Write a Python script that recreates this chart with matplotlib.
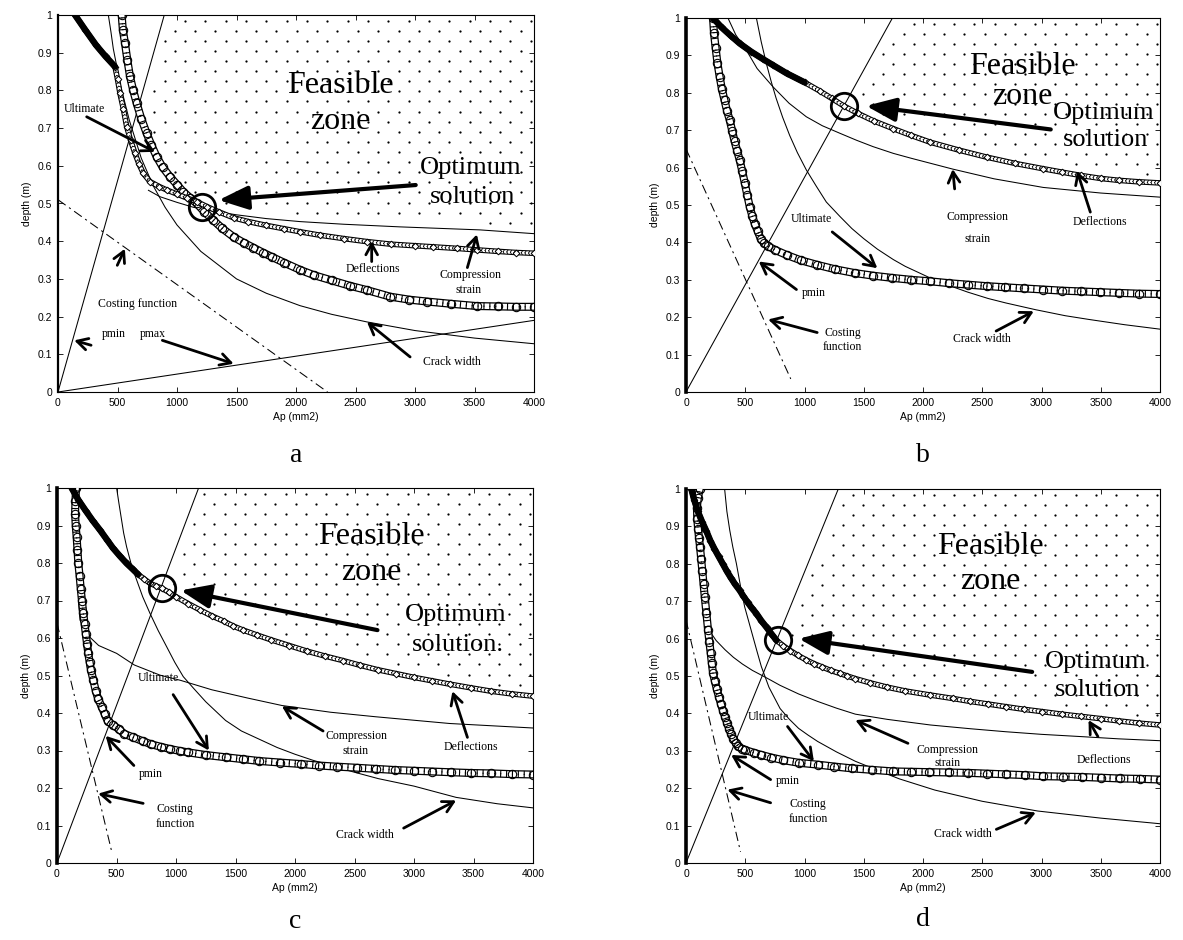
import numpy as np
import matplotlib
matplotlib.use("Agg")
import matplotlib.pyplot as plt
import matplotlib.patheffects as pe

# ---------------- panel a ----------------
A_PMIN_X = [0, 893]
A_PMIN_Y = [0, 1.0]
A_PMAX_X = [0, 4000]
A_PMAX_Y = [0, 0.19]
A_COST_X = [0, 2265]
A_COST_Y = [0.51, 0.0]
A_DEFL_X = [143, 230, 320, 400, 479, 500, 521, 550, 577, 610, 647, 680, 717, 773, 850, 913, 1000, 1080,
            1165, 1250, 1350, 1476, 1600, 1750, 1900, 2034, 2200, 2400, 2594, 2800, 3000, 3154, 3350,
            3518, 3700, 3850, 4000]
A_DEFL_Y = [1.0, 0.96, 0.92, 0.89, 0.863, 0.83, 0.792, 0.75, 0.704, 0.668, 0.633, 0.605, 0.58, 0.558,
            0.545, 0.536, 0.525, 0.515, 0.505, 0.492, 0.478, 0.462, 0.452, 0.442, 0.433, 0.425, 0.416,
            0.407, 0.399, 0.392, 0.388, 0.385, 0.381, 0.377, 0.373, 0.370, 0.368]
A_DEFL_THICK = 5
A_CIRC_X = [535, 545, 563, 583, 605, 632, 661, 700, 745, 785, 829, 880, 941, 1000, 1053, 1110, 1165,
            1230, 1300, 1380, 1476, 1560, 1640, 1720, 1800, 1900, 2034, 2150, 2300, 2450, 2600, 2790,
            2950, 3100, 3300, 3518, 3700, 3850, 4000]
A_CIRC_Y = [1.0, 0.96, 0.925, 0.88, 0.837, 0.8, 0.766, 0.725, 0.686, 0.655, 0.624, 0.596, 0.571, 0.55,
            0.531, 0.515, 0.5, 0.478, 0.457, 0.434, 0.411, 0.396, 0.383, 0.37, 0.358, 0.343, 0.324,
            0.31, 0.296, 0.282, 0.27, 0.253, 0.245, 0.24, 0.234, 0.228, 0.227, 0.226, 0.226]
A_COMP_X = [760, 857, 1000, 1137, 1300, 1500, 1750, 2034, 2400, 2874, 3546, 4000]
A_COMP_Y = [0.535, 0.518, 0.503, 0.49, 0.48, 0.47, 0.46, 0.452, 0.445, 0.438, 0.43, 0.42]
A_CRACK_X = [423, 445, 465, 490, 520, 560, 600, 650, 700, 800, 900, 1000, 1200, 1500, 1750, 2034, 2300,
             2594, 3000, 3500, 4000]
A_CRACK_Y = [1.0, 0.955, 0.91, 0.87, 0.82, 0.77, 0.72, 0.67, 0.62, 0.547, 0.49, 0.443, 0.373, 0.3,
             0.262, 0.229, 0.206, 0.186, 0.163, 0.143, 0.128]
A_OPT = (1208, 0.491)

# ---------------- panel b ----------------
B_PMIN_X = [0, 1742]
B_PMIN_Y = [0, 1.0]
B_COST_X = [0, 884]
B_COST_Y = [0.65, 0.035]
B_DEFL_X = [228, 300, 380, 453, 550, 650, 734, 850, 1000, 1128, 1230, 1331, 1450, 1583, 1750, 1900,
            2060, 2300, 2537, 2780, 3014, 3170, 3332, 3500, 3650, 3820, 4000]
B_DEFL_Y = [1.0, 0.975, 0.952, 0.932, 0.91, 0.89, 0.874, 0.852, 0.828, 0.805, 0.785, 0.765, 0.745,
            0.725, 0.704, 0.686, 0.668, 0.647, 0.628, 0.611, 0.597, 0.588, 0.579, 0.571, 0.566, 0.562,
            0.559]
B_DEFL_THICK = 9
B_CIRC_X = [228, 236, 250, 265, 284, 303, 325, 346, 369, 390, 410, 432, 453, 475, 495, 516, 538, 560,
            580, 605, 630, 660, 693, 750, 852, 970, 1107, 1260, 1425, 1580, 1742, 1900, 2060, 2220,
            2378, 2540, 2696, 2850, 3014, 3170, 3332, 3490, 3650, 3820, 4000]
B_CIRC_Y = [1.0, 0.96, 0.92, 0.88, 0.843, 0.81, 0.78, 0.752, 0.727, 0.698, 0.67, 0.645, 0.62, 0.59,
            0.56, 0.528, 0.495, 0.47, 0.45, 0.43, 0.41, 0.398, 0.39, 0.38, 0.366, 0.352, 0.34, 0.328,
            0.318, 0.311, 0.305, 0.3, 0.296, 0.291, 0.287, 0.283, 0.28, 0.277, 0.274, 0.271, 0.269,
            0.267, 0.265, 0.263, 0.262]
B_COMP_X = [354, 420, 509, 600, 734, 870, 1015, 1150, 1297, 1440, 1579, 1750, 1900, 2251, 2600, 3014,
            3500, 4000]
B_COMP_Y = [1.0, 0.955, 0.914, 0.865, 0.816, 0.772, 0.736, 0.712, 0.692, 0.673, 0.656, 0.638, 0.625,
            0.596, 0.57, 0.547, 0.532, 0.521]
B_CRACK_X = [594, 635, 680, 720, 760, 815, 875, 940, 1015, 1100, 1184, 1300, 1400, 1500, 1615, 1750,
             1850, 2060, 2200, 2378, 2550, 2700, 2951, 3200, 3400, 3700, 4000]
B_CRACK_Y = [1.0, 0.936, 0.876, 0.829, 0.786, 0.735, 0.686, 0.64, 0.594, 0.55, 0.508, 0.469, 0.437,
             0.41, 0.382, 0.354, 0.336, 0.305, 0.287, 0.267, 0.25, 0.238, 0.22, 0.204, 0.194, 0.18,
             0.168]
B_OPT = (1335, 0.765)

# ---------------- panel c ----------------
C_PMIN_X = [0, 1190]
C_PMIN_Y = [0, 1.0]
C_COST_X = [0, 460]
C_COST_Y = [0.64, 0.03]
C_DEFL_X = [123, 180, 240, 300, 361, 420, 470, 530, 585, 635, 680, 730, 781, 830, 879, 940, 1000, 1100,
            1201, 1300, 1400, 1480, 1565, 1680, 1800, 1950, 2100, 2250, 2400, 2550, 2700, 2850, 3000,
            3150, 3300, 3480, 3650, 3820, 4000]
C_DEFL_Y = [1.0, 0.968, 0.94, 0.913, 0.888, 0.862, 0.84, 0.818, 0.799, 0.784, 0.77, 0.758, 0.746,
            0.739, 0.733, 0.722, 0.71, 0.692, 0.675, 0.659, 0.645, 0.632, 0.621, 0.608, 0.595, 0.58,
            0.565, 0.552, 0.54, 0.527, 0.515, 0.505, 0.495, 0.486, 0.477, 0.467, 0.458, 0.451, 0.445]
C_DEFL_THICK = 11
C_CIRC_X = [160, 155, 152, 157, 165, 172, 179, 190, 200, 210, 221, 232, 242, 252, 263, 274, 285, 305,
            325, 345, 378, 400, 425, 470, 520, 567, 640, 720, 787, 870, 950, 1030, 1102, 1250, 1417,
            1560, 1700, 1870, 2047, 2200, 2350, 2520, 2677, 2840, 3000, 3150, 3307, 3480, 3650, 3820,
            4000]
C_CIRC_Y = [1.0, 0.965, 0.932, 0.9, 0.87, 0.835, 0.8, 0.765, 0.73, 0.698, 0.666, 0.637, 0.61, 0.585,
            0.559, 0.536, 0.515, 0.488, 0.46, 0.438, 0.415, 0.398, 0.379, 0.368, 0.357, 0.344, 0.335,
            0.325, 0.317, 0.31, 0.304, 0.299, 0.295, 0.288, 0.282, 0.277, 0.272, 0.268, 0.264, 0.26,
            0.257, 0.254, 0.251, 0.248, 0.246, 0.244, 0.242, 0.24, 0.239, 0.237, 0.236]
C_COMP_X = [180, 193, 250, 350, 501, 650, 865, 1039, 1300, 1600, 1890, 2300, 2677, 3300, 4000]
C_COMP_Y = [0.7, 0.648, 0.61, 0.58, 0.559, 0.528, 0.501, 0.487, 0.462, 0.44, 0.42, 0.402, 0.39, 0.372,
            0.36]
C_CRACK_X = [501, 520, 540, 560, 585, 625, 669, 720, 781, 850, 921, 990, 1061, 1150, 1250, 1417, 1550,
             1700, 1850, 2000, 2150, 2300, 2500, 2700, 3000, 3354, 3700, 4000]
C_CRACK_Y = [1.0, 0.96, 0.92, 0.88, 0.843, 0.795, 0.755, 0.71, 0.666, 0.62, 0.577, 0.535, 0.497, 0.465,
             0.43, 0.38, 0.352, 0.33, 0.308, 0.29, 0.274, 0.26, 0.242, 0.225, 0.205, 0.175, 0.158,
             0.147]
C_OPT = (879, 0.733)

# ---------------- panel d ----------------
D_PMIN_X = [0, 1285]
D_PMIN_Y = [0, 1.0]
D_COST_X = [0, 460]
D_COST_Y = [0.65, 0.03]
D_DEFL_X = [45, 70, 100, 135, 171, 205, 240, 275, 312, 345, 380, 415, 453, 485, 520, 555, 594, 635,
            680, 720, 762, 820, 880, 945, 1015, 1080, 1150, 1220, 1297, 1360, 1429, 1550, 1700, 1850,
            2063, 2250, 2400, 2550, 2698, 2850, 3000, 3170, 3333, 3500, 3650, 3820, 4000]
D_DEFL_Y = [1.0, 0.97, 0.94, 0.913, 0.888, 0.862, 0.84, 0.82, 0.799, 0.78, 0.762, 0.745, 0.729, 0.713,
            0.697, 0.682, 0.667, 0.648, 0.63, 0.613, 0.596, 0.581, 0.568, 0.555, 0.543, 0.533, 0.524,
            0.515, 0.507, 0.5, 0.493, 0.482, 0.47, 0.46, 0.449, 0.44, 0.432, 0.425, 0.418, 0.411, 0.405,
            0.398, 0.392, 0.386, 0.38, 0.374, 0.369]
D_DEFL_THICK = 21
D_CIRC_X = [116, 100, 92, 95, 102, 110, 118, 128, 138, 148, 158, 172, 186, 197, 208, 218, 228, 244,
            260, 277, 295, 312, 330, 347, 365, 382, 400, 420, 440, 470, 500, 570, 635, 720, 820, 950,
            1111, 1250, 1400, 1570, 1746, 1900, 2050, 2220, 2381, 2540, 2700, 2860, 3016, 3180, 3340,
            3500, 3660, 3830, 4000]
D_CIRC_Y = [1.0, 0.975, 0.95, 0.92, 0.893, 0.868, 0.846, 0.813, 0.78, 0.746, 0.712, 0.668, 0.623,
            0.592, 0.562, 0.534, 0.507, 0.486, 0.465, 0.445, 0.425, 0.407, 0.39, 0.374, 0.358, 0.344,
            0.332, 0.321, 0.312, 0.306, 0.302, 0.295, 0.289, 0.282, 0.275, 0.268, 0.263, 0.258, 0.253,
            0.249, 0.245, 0.244, 0.243, 0.242, 0.241, 0.239, 0.237, 0.235, 0.232, 0.231, 0.23, 0.228,
            0.226, 0.225, 0.223]
D_COMP_X = [170, 200, 254, 330, 400, 476, 560, 650, 720, 794, 950, 1111, 1270, 1429, 1700, 2063, 2400,
            2698, 3000, 3333, 3650, 4000]
D_COMP_Y = [0.64, 0.62, 0.595, 0.57, 0.55, 0.532, 0.515, 0.5, 0.488, 0.475, 0.452, 0.432, 0.414, 0.398,
            0.384, 0.369, 0.359, 0.351, 0.344, 0.338, 0.332, 0.327]
D_CRACK_X = [326, 345, 369, 395, 425, 460, 495, 530, 565, 600, 636, 700, 794, 870, 950, 1030, 1111,
             1270, 1429, 1600, 1800, 2100, 2500, 2968, 3500, 4000]
D_CRACK_Y = [1.0, 0.94, 0.89, 0.845, 0.801, 0.74, 0.685, 0.645, 0.605, 0.565, 0.525, 0.47, 0.413,
             0.385, 0.36, 0.342, 0.325, 0.297, 0.272, 0.25, 0.225, 0.195, 0.165, 0.139, 0.12, 0.105]
D_OPT = (778, 0.596)

XTICKS = [0, 500, 1000, 1500, 2000, 2500, 3000, 3500, 4000]
YTICKS = [0, 0.1, 0.2, 0.3, 0.4, 0.5, 0.6, 0.7, 0.8, 0.9, 1]
YTICKLABELS = ["0", "0.1", "0.2", "0.3", "0.4", "0.5", "0.6", "0.7", "0.8", "0.9", "1"]

SERIF = "Liberation Serif"
plt.rcParams.update({"font.family": "Liberation Sans", "font.size": 7.5})

BIG, MID, SMALL = 23, 19, 8.5

# (text, x, y, size) and (tail_x, tail_y, tip_x, tip_y)
PANELS = {
    "a": dict(pmin=(A_PMIN_X, A_PMIN_Y), pmax=(A_PMAX_X, A_PMAX_Y), cost=(A_COST_X, A_COST_Y),
              defl=(A_DEFL_X, A_DEFL_Y), thick=A_DEFL_THICK, circ=(A_CIRC_X, A_CIRC_Y),
              comp=(A_COMP_X, A_COMP_Y), crack=(A_CRACK_X, A_CRACK_Y), opt=A_OPT, circ_bound=True,
              texts=[("Feasible", 2370, 0.814, BIG), ("zone", 2370, 0.717, BIG),
                     ("Optimum", 3464, 0.593, MID), ("solution", 3480, 0.518, MID),
                     ("Ultimate", 220, 0.75, SMALL), ("Deflections", 2650, 0.325, SMALL),
                     ("Compression", 3464, 0.31, SMALL), ("strain", 3448, 0.27, SMALL),
                     ("Costing function", 672, 0.234, SMALL), ("pmin", 470, 0.155, SMALL),
                     ("pmax", 798, 0.155, SMALL), ("Crack width", 3306, 0.08, SMALL)],
              arrows=[(241, 0.73, 815, 0.637), (2636, 0.346, 2636, 0.4), (3440, 0.33, 3520, 0.418),
                      (498, 0.336, 562, 0.38), (278, 0.124, 136, 0.137), (877, 0.137, 1476, 0.075),
                      (2959, 0.093, 2596, 0.186)],
              opt_arrow=(3006, 0.549, 1350, 0.509), spine=1.6),
    "b": dict(pmin=(B_PMIN_X, B_PMIN_Y), pmax=None, cost=(B_COST_X, B_COST_Y),
              defl=(B_DEFL_X, B_DEFL_Y), thick=B_DEFL_THICK, circ=(B_CIRC_X, B_CIRC_Y),
              comp=(B_COMP_X, B_COMP_Y), crack=(B_CRACK_X, B_CRACK_Y), opt=B_OPT, circ_bound=False,
              texts=[("Feasible", 2839, 0.869, BIG), ("zone", 2839, 0.79, BIG),
                     ("Optimum", 3523, 0.746, MID), ("solution", 3539, 0.675, MID),
                     ("Compression", 2458, 0.468, SMALL), ("strain", 2458, 0.41, SMALL),
                     ("Deflections", 3491, 0.455, SMALL), ("Ultimate", 1059, 0.463, SMALL),
                     ("pmin", 1075, 0.265, SMALL), ("Costing", 1323, 0.159, SMALL),
                     ("function", 1323, 0.119, SMALL), ("Crack width", 2499, 0.141, SMALL)],
              arrows=[(2267, 0.543, 2251, 0.596), (3412, 0.481, 3300, 0.591), (1234, 0.428, 1615, 0.331),
                      (932, 0.274, 614, 0.349), (1107, 0.159, 693, 0.194), (2617, 0.163, 2935, 0.216)],
              opt_arrow=(3078, 0.702, 1520, 0.765), spine=2.6),
    "c": dict(pmin=(C_PMIN_X, C_PMIN_Y), pmax=None, cost=(C_COST_X, C_COST_Y),
              defl=(C_DEFL_X, C_DEFL_Y), thick=C_DEFL_THICK, circ=(C_CIRC_X, C_CIRC_Y),
              comp=(C_COMP_X, C_COMP_Y), crack=(C_CRACK_X, C_CRACK_Y), opt=C_OPT, circ_bound=False,
              texts=[("Feasible", 2646, 0.872, BIG), ("zone", 2646, 0.775, BIG),
                     ("Optimum", 3354, 0.661, MID), ("solution.", 3370, 0.581, MID),
                     ("Ultimate", 850, 0.493, SMALL), ("Compression", 2513, 0.339, SMALL),
                     ("strain", 2513, 0.3, SMALL), ("Deflections", 3480, 0.308, SMALL),
                     ("pmin", 787, 0.238, SMALL), ("Costing", 992, 0.143, SMALL),
                     ("function", 992, 0.103, SMALL), ("Crack width", 2583, 0.075, SMALL)],
              arrows=[(976, 0.449, 1276, 0.3), (2236, 0.352, 1890, 0.418), (3449, 0.335, 3323, 0.458),
                      (646, 0.26, 409, 0.339), (724, 0.159, 346, 0.185), (2913, 0.093, 3354, 0.167)],
              opt_arrow=(2693, 0.621, 1039, 0.727), spine=2.6),
    "d": dict(pmin=(D_PMIN_X, D_PMIN_Y), pmax=None, cost=(D_COST_X, D_COST_Y),
              defl=(D_DEFL_X, D_DEFL_Y), thick=D_DEFL_THICK, circ=(D_CIRC_X, D_CIRC_Y),
              comp=(D_COMP_X, D_COMP_Y), crack=(D_CRACK_X, D_CRACK_Y), opt=D_OPT, circ_bound=False,
              texts=[("Feasible", 2571, 0.847, BIG), ("zone", 2571, 0.754, BIG),
                     ("Optimum", 3460, 0.537, MID), ("solution", 3476, 0.462, MID),
                     ("Ultimate", 698, 0.391, SMALL), ("Compression", 2206, 0.303, SMALL),
                     ("strain", 2206, 0.267, SMALL), ("Deflections", 3524, 0.276, SMALL),
                     ("pmin", 857, 0.219, SMALL), ("Costing", 1032, 0.157, SMALL),
                     ("function", 1032, 0.117, SMALL), ("Crack width", 2333, 0.077, SMALL)],
              arrows=[(857, 0.365, 1079, 0.272), (1873, 0.32, 1429, 0.382), (3476, 0.338, 3397, 0.382),
                      (714, 0.223, 381, 0.289), (714, 0.161, 349, 0.196), (2619, 0.09, 2952, 0.135)],
              opt_arrow=(2921, 0.511, 952, 0.6), spine=2.6),
}

AX_POS = {
    "a": [58 / 1183, 1 - 392 / 940, 476 / 1183, 377 / 940],
    "b": [686 / 1183, 1 - 392 / 940, 474 / 1183, 374 / 940],
    "c": [57 / 1183, 1 - 863 / 940, 476 / 1183, 375 / 940],
    "d": [686 / 1183, 1 - 863 / 940, 474 / 1183, 374 / 940],
}
LETTER_POS = {"a": (296, 455), "b": (923, 455), "c": (295, 922), "d": (923, 920)}

# chain-of-circles and chain-of-diamonds line styles
CIRC_PE = [pe.Stroke(linewidth=5.8, foreground="k"), pe.Stroke(linewidth=4.0, foreground="w"),
           pe.TickedStroke(spacing=4.2, angle=90, length=0.5, linewidth=0.8, foreground="k"),
           pe.TickedStroke(spacing=4.2, angle=-90, length=0.5, linewidth=0.8, foreground="k")]
DEFL_PE = [pe.Stroke(linewidth=4.0, foreground="k"), pe.Stroke(linewidth=2.4, foreground="w"),
           pe.TickedStroke(spacing=2.6, angle=60, length=0.55, linewidth=0.6, foreground="k"),
           pe.TickedStroke(spacing=2.6, angle=-60, length=0.55, linewidth=0.6, foreground="k")]


def feasible_dots(ax, p):
    rows = np.arange(0.985, 0.0, -0.0268)
    gx, gy = [], []
    for i, yv in enumerate(rows):
        xs = np.arange(40 + (i % 2) * 85.5, 3990, 171)
        gx.append(xs)
        gy.append(np.full(xs.shape, yv))
    gx = np.concatenate(gx)
    gy = np.concatenate(gy)
    floor = np.zeros_like(gx)
    bounds = [(p["defl"], 2.0), (p["comp"], 0.0)]
    if p["circ_bound"]:
        bounds.append((p["circ"], 2.0))
    for (cx, cy), left in bounds:
        floor = np.maximum(floor, np.interp(gx, cx, cy, left=left))
    x_min = np.interp(gy, p["pmin"][1], p["pmin"][0])
    mask = (gy > floor + 0.02) & (gx > x_min + 60)
    ax.scatter(gx[mask], gy[mask], s=2.6, c="k", linewidths=0, zorder=1)


def draw_panel(ax, key):
    p = PANELS[key]
    ax.set_xlim(0, 4000)
    ax.set_ylim(0, 1)
    feasible_dots(ax, p)

    thin = dict(color="k", lw=0.75, zorder=2)
    ax.plot(*p["pmin"], **thin)
    if p["pmax"] is not None:
        ax.plot(*p["pmax"], **thin)
    ax.plot(*p["cost"], color="k", lw=0.75, ls=(0, (9, 4, 2, 4)), zorder=2)
    ax.plot(*p["comp"], **thin)
    ax.plot(*p["crack"], **thin)

    cx, cy = p["circ"]
    ax.plot(cx, cy, color="k", lw=1, path_effects=CIRC_PE, zorder=3)
    ax.plot(cx, cy, ls="none", marker="o", ms=6.0, mfc="none", mec="k", mew=0.8, zorder=4)

    dx, dy = p["defl"]
    ax.plot(dx, dy, color="k", lw=1, path_effects=DEFL_PE, zorder=5)
    ax.plot(dx, dy, ls="none", marker="D", ms=3.4, mfc="w", mec="k", mew=0.7, zorder=6)
    n = p["thick"]
    ax.plot(dx[:n], dy[:n], color="k", lw=4.6, solid_capstyle="round", zorder=7)

    ax.plot(*p["opt"], ls="none", marker="o", ms=19, mfc="none", mec="k", mew=2.0, zorder=9)

    for txt, x, y, size in p["texts"]:
        ax.text(x, y, txt, family=SERIF, fontsize=size, ha="center", va="center", zorder=10)
    for x0, y0, x1, y1 in p["arrows"]:
        ax.annotate("", xy=(x1, y1), xytext=(x0, y0), zorder=10,
                    arrowprops=dict(arrowstyle="->,head_length=0.55,head_width=0.3", lw=2.0, color="k",
                                    mutation_scale=14, shrinkA=0, shrinkB=0))
    x0, y0, x1, y1 = p["opt_arrow"]
    ax.annotate("", xy=(x1, y1), xytext=(x0, y0), zorder=10,
                arrowprops=dict(arrowstyle="-|>,head_length=1.0,head_width=0.4", lw=3.0, color="k",
                                mutation_scale=18, shrinkA=0, shrinkB=0))

    ax.set_xticks(XTICKS)
    ax.set_yticks(YTICKS)
    ax.set_yticklabels(YTICKLABELS)
    ax.tick_params(direction="in", top=True, right=True, length=3.5, width=0.6, pad=4, labelsize=7.5)
    for s in ax.spines.values():
        s.set_linewidth(0.8)
    ax.spines["left"].set_linewidth(p["spine"])
    ax.set_xlabel("Ap (mm2)", fontsize=7.5, labelpad=3)
    ax.set_ylabel("depth (m)", fontsize=7.5, labelpad=4)


fig = plt.figure(figsize=(11.83, 9.4), dpi=100)
for key in ["a", "b", "c", "d"]:
    ax = fig.add_axes(AX_POS[key])
    draw_panel(ax, key)
    lx, ly = LETTER_POS[key]
    fig.text(lx / 1183, 1 - ly / 940, key, family=SERIF, fontsize=20, ha="center", va="center")

fig.savefig("out.png", dpi=100)
